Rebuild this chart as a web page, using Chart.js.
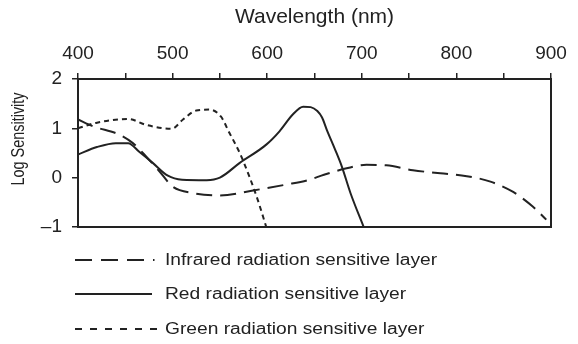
<!DOCTYPE html>
<html>
<head>
<meta charset="utf-8">
<script src="https://cdn.jsdelivr.net/npm/chart.js@4.4.1/dist/chart.umd.min.js"></script>
<style>
  html, body { margin: 0; padding: 0; background: #fff; }
  #wrap { width: 578px; height: 344px; position: relative; }
</style>
</head>
<body>
<div id="wrap"><canvas id="sensChart"></canvas></div>
<script>
// Values (wavelength in nm, log sensitivity)
const irWave = [400, 416, 444, 458, 472, 486, 500, 521, 550, 585, 620, 645, 660, 684, 705, 726, 754, 783, 811, 836, 860, 881, 895];
const irLog  = [1.18, 1.04, 0.87, 0.70, 0.43, 0.13, -0.18, -0.31, -0.36, -0.26, -0.14, -0.04, 0.06, 0.19, 0.26, 0.25, 0.15, 0.09, 0.03, -0.08, -0.29, -0.59, -0.85];

const redWave = [400, 420, 440, 453, 465, 479, 495, 510, 536, 550, 571, 599, 613, 627, 638, 646, 653, 658, 663, 672, 679, 688, 702];
const redLog  = [0.47, 0.62, 0.70, 0.70, 0.52, 0.30, 0.04, -0.04, -0.05, 0.0, 0.30, 0.67, 0.94, 1.28, 1.44, 1.43, 1.35, 1.22, 0.97, 0.56, 0.22, -0.31, -1.0];

const greenWave = [400, 419, 453, 472, 499, 511, 525, 539, 551, 560, 571, 581, 590, 599];
const greenLog  = [1.0, 1.11, 1.19, 1.07, 0.99, 1.18, 1.36, 1.38, 1.24, 0.91, 0.50, 0.03, -0.45, -1.0];

const labels = ['Infrared radiation sensitive layer', 'Red radiation sensitive layer', 'Green radiation sensitive layer'];

const ink = '#222';

Chart.defaults.font.family = "'Liberation Sans', Arial, sans-serif";
Chart.defaults.color = ink;

function toPoints(xs, ys) {
    return xs.map((x, i) => ({ x: x, y: ys[i] }));
}

// frame, rotated y title and the stacked legend under the plot
const extrasPlugin = {
    id: 'extras',
    afterDatasetsDraw(chart) {
        const ctx = chart.ctx;
        const a = chart.chartArea;
        ctx.save();
        ctx.strokeStyle = ink;
        ctx.lineWidth = 2;
        ctx.strokeRect(a.left, a.top, a.right - a.left, a.bottom - a.top);

        // y axis title
        ctx.translate(19, 139);
        ctx.rotate(-Math.PI / 2);
        ctx.scale(0.76, 1);
        ctx.font = "19px 'Liberation Sans', Arial, sans-serif";
        ctx.fillStyle = ink;
        ctx.textAlign = 'center';
        ctx.textBaseline = 'middle';
        ctx.fillText('Log Sensitivity', 0, 0);
        ctx.restore();

        // legend
        const rowY = [260, 294, 329];
        chart.data.datasets.forEach((ds, i) => {
            const y = rowY[i];
            ctx.save();
            ctx.strokeStyle = ink;
            ctx.lineWidth = 2;
            ctx.setLineDash(ds.legendDash);
            ctx.beginPath();
            ctx.moveTo(75, y);
            ctx.lineTo(ds.legendEnd, y);
            ctx.stroke();
            ctx.setLineDash([]);
            ctx.font = "16px 'Liberation Sans', Arial, sans-serif";
            ctx.fillStyle = ink;
            ctx.textBaseline = 'middle';
            ctx.scale(1.2, 1);
            ctx.fillText(ds.label, 165 / 1.2, y + 1);
            ctx.restore();
        });
    }
};

new Chart(document.getElementById('sensChart').getContext('2d'), {
    type: 'line',
    data: {
        datasets: [{
            label: labels[0],
            data: toPoints(irWave, irLog),
            borderColor: ink,
            borderWidth: 2,
            borderDash: [16, 8],
            legendDash: [17, 9],
            legendEnd: 154.5
        }, {
            label: labels[1],
            data: toPoints(redWave, redLog),
            borderColor: ink,
            borderWidth: 2,
            borderDash: [],
            legendDash: [],
            legendEnd: 152
        }, {
            label: labels[2],
            data: toPoints(greenWave, greenLog),
            borderColor: ink,
            borderWidth: 2,
            borderDash: [5, 4],
            legendDash: [7, 8],
            legendEnd: 158
        }]
    },
    options: {
        responsive: true,
        maintainAspectRatio: false,
        animation: false,
        layout: { padding: { left: 0, right: 27, top: 0, bottom: 117 } },
        elements: {
            point: { radius: 0 },
            line: { cubicInterpolationMode: 'monotone', fill: false }
        },
        plugins: {
            legend: { display: false },
            tooltip: { enabled: false }
        },
        scales: {
            x: {
                type: 'linear',
                position: 'top',
                min: 400,
                max: 900,
                ticks: {
                    stepSize: 50,
                    autoSkip: false,
                    maxRotation: 0,
                    padding: 8,
                    font: { size: 19 },
                    callback: v => (v % 100 === 0 ? String(v) : '')
                },
                grid: { drawOnChartArea: false, tickLength: 6, color: ink, lineWidth: 1.5 },
                border: { color: ink, width: 2 },
                title: {
                    display: true,
                    text: 'Wavelength (nm)',
                    font: { size: 21 },
                    padding: { top: 5, bottom: 0 }
                },
                afterFit: s => { s.height = 79; }
            },
            y: {
                min: -1,
                max: 2,
                ticks: {
                    stepSize: 1,
                    padding: 10,
                    font: { size: 19 },
                    callback: v => String(v).replace('-', '\u2013')
                },
                grid: { drawOnChartArea: false, tickLength: 6, color: ink, lineWidth: 1.5 },
                border: { color: ink, width: 2 },
                afterFit: s => { s.width = 78; }
            }
        }
    },
    plugins: [extrasPlugin]
});
</script>
</body>
</html>
